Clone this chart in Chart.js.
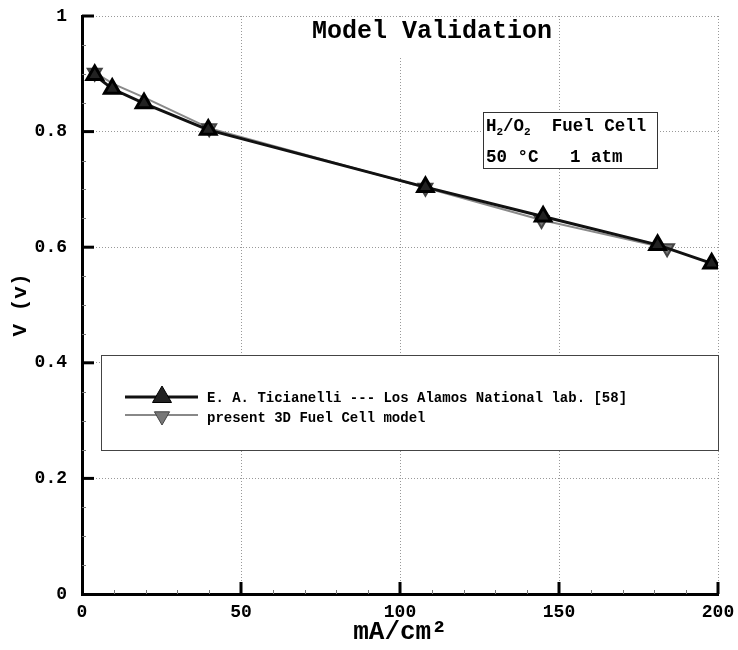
<!DOCTYPE html>
<html>
<head>
<meta charset="utf-8">
<script src="https://cdn.jsdelivr.net/npm/chart.js@4.4.0/dist/chart.umd.min.js"></script>
<style>
  html, body { margin: 0; padding: 0; background: #fff; }
  #wrap { width: 738px; height: 650px; position: relative; }
</style>
</head>
<body>
<div id="wrap"><canvas id="c" width="738" height="650"></canvas></div>
<script>
// ---- Data ----
const expX   = [4, 9.5, 19.5, 39.7, 108, 145, 181, 198];
const expY   = [0.898, 0.874, 0.849, 0.803, 0.704, 0.653, 0.604, 0.572];
const modelX = [4, 10, 20, 40, 108, 144.5, 184];
const modelY = [0.902, 0.882, 0.858, 0.806, 0.703, 0.647, 0.598];
const modelMarkerShown = [1, 0, 0, 1, 1, 1, 1];

const xTickValues = [0, 50, 100, 150, 200];
const xTickLabels = ['0', '50', '100', '150', '200'];
const yTickValues = [0, 0.2, 0.4, 0.6, 0.8, 1];
const yTickLabels = ['0', '0.2', '0.4', '0.6', '0.8', '1'];

const seriesNames = ['E. A. Ticianelli --- Los Alamos National lab. [58]', 'present 3D Fuel Cell model'];
const chartTitle = 'Model Validation';
const xTitle = 'mA/cm\u00B2';
const yTitle = 'V (v)';
const infoLine2 = '50 \u00B0C   1 atm';

const MONO = '"Liberation Mono", "DejaVu Sans Mono", monospace';

function pts(xs, ys) { return xs.map((x, i) => ({ x: x, y: ys[i] })); }

function triangle(ctx, x, y, r, down, fill, stroke) {
  ctx.save();
  ctx.beginPath();
  const s = down ? -1 : 1;
  ctx.moveTo(x, y - s * r);
  ctx.lineTo(x + r * 0.95, y + s * r * 0.65);
  ctx.lineTo(x - r * 0.95, y + s * r * 0.65);
  ctx.closePath();
  ctx.fillStyle = fill; ctx.fill();
  ctx.strokeStyle = stroke; ctx.lineWidth = 1; ctx.stroke();
  ctx.restore();
}

const decorPlugin = {
  id: 'decor',
  afterDraw(chart) {
    const ctx = chart.ctx;
    const xs = chart.scales.x, ys = chart.scales.y;
    const area = chart.chartArea;
    ctx.save();
    // minor ticks
    ctx.strokeStyle = '#777'; ctx.lineWidth = 1;
    for (let v = 10; v < 200; v += 10) {
      if (v % 50 === 0) continue;
      const px = Math.round(xs.getPixelForValue(v)) + 0.5;
      ctx.beginPath(); ctx.moveTo(px, area.bottom); ctx.lineTo(px, area.bottom - 4); ctx.stroke();
    }
    for (let k = 1; k < 20; k++) {
      if (k % 4 === 0) continue;
      const py = Math.round(ys.getPixelForValue(k * 0.05)) + 0.5;
      ctx.beginPath(); ctx.moveTo(area.left, py); ctx.lineTo(area.left + 4, py); ctx.stroke();
    }
    // major ticks
    ctx.strokeStyle = '#000'; ctx.lineWidth = 3;
    xTickValues.forEach(v => {
      if (v === 0) return;
      const px = xs.getPixelForValue(v);
      ctx.beginPath(); ctx.moveTo(px, area.bottom); ctx.lineTo(px, area.bottom - 12); ctx.stroke();
    });
    yTickValues.forEach(v => {
      if (v === 0) return;
      const py = ys.getPixelForValue(v);
      ctx.beginPath(); ctx.moveTo(area.left, py); ctx.lineTo(area.left + 12, py); ctx.stroke();
    });

    // Title box (white, covering grid)
    ctx.font = 'bold 25px ' + MONO;
    const tw = ctx.measureText(chartTitle).width;
    const tcx = 432, tcy = 32;
    ctx.fillStyle = '#fff';
    ctx.fillRect(tcx - tw / 2 - 5, area.top + 2, tw + 10, 38);
    ctx.fillStyle = '#000';
    ctx.textAlign = 'center'; ctx.textBaseline = 'middle';
    ctx.fillText(chartTitle, tcx, tcy);

    // Info box
    const bx = 483, by = 112, bw = 174, bh = 56;
    ctx.fillStyle = '#fff'; ctx.fillRect(bx, by, bw, bh);
    ctx.strokeStyle = '#333'; ctx.lineWidth = 1;
    ctx.strokeRect(bx + 0.5, by + 0.5, bw, bh);
    ctx.fillStyle = '#000'; ctx.textAlign = 'left'; ctx.textBaseline = 'alphabetic';
    let tx = bx + 3; const ty1 = by + 19;
    const big = 'bold 17.5px ' + MONO, small = 'bold 11px ' + MONO;
    const parts = [['H', big, 0], ['2', small, 4], ['/O', big, 0], ['2', small, 4], ['  Fuel Cell', big, 0]];
    parts.forEach(p => {
      ctx.font = p[1];
      ctx.fillText(p[0], tx, ty1 + p[2]);
      tx += ctx.measureText(p[0]).width;
    });
    ctx.font = big;
    ctx.fillText(infoLine2, bx + 3, by + 50);

    // Legend box
    const lx = 101, ly = 355, lw = area.right - 101, lh = 95;
    ctx.fillStyle = '#fff'; ctx.fillRect(lx, ly, lw, lh);
    ctx.strokeStyle = '#444'; ctx.lineWidth = 1;
    ctx.strokeRect(lx + 0.5, ly + 0.5, lw, lh);
    // series 1 sample
    ctx.strokeStyle = '#111'; ctx.lineWidth = 3;
    ctx.beginPath(); ctx.moveTo(125, 397); ctx.lineTo(198, 397); ctx.stroke();
    triangle(ctx, 162, 396, 10, false, '#222', '#000');
    // series 2 sample
    ctx.strokeStyle = '#888'; ctx.lineWidth = 2;
    ctx.beginPath(); ctx.moveTo(125, 415); ctx.lineTo(198, 415); ctx.stroke();
    triangle(ctx, 162, 417, 8, true, '#777', '#444');
    ctx.fillStyle = '#000';
    ctx.font = 'bold 14px ' + MONO;
    ctx.textBaseline = 'middle';
    ctx.fillText(seriesNames[0], 207, 398);
    ctx.fillText(seriesNames[1], 207, 418);
    ctx.restore();
  }
};

new Chart(document.getElementById('c'), {
  type: 'scatter',
  data: {
    datasets: [
      {
        label: seriesNames[1],
        data: pts(modelX, modelY),
        showLine: true,
        borderColor: '#8a8a8a',
        borderWidth: 2,
        backgroundColor: '#777',
        pointBorderColor: '#444',
        pointStyle: 'triangle',
        rotation: 180,
        pointRadius: modelMarkerShown.map(m => m ? 8 : 0),
        order: 2
      },
      {
        label: seriesNames[0],
        data: pts(expX, expY),
        showLine: true,
        borderColor: '#111',
        borderWidth: 3,
        backgroundColor: '#222',
        pointBorderColor: '#000',
        pointStyle: 'triangle',
        pointRadius: 9,
        order: 1
      }
    ]
  },
  options: {
    responsive: false,
    animation: false,
    events: [],
    layout: { padding: { top: 16, right: 20, left: 0, bottom: 0 } },
    plugins: { legend: { display: false }, tooltip: { enabled: false } },
    scales: {
      x: {
        type: 'linear', min: 0, max: 200,
        afterBuildTicks: s => { s.ticks = xTickValues.map(v => ({ value: v })); },
        afterFit: s => { s.height = 56; s.paddingLeft = 0; s.paddingRight = 0; },
        grid: { color: '#999', lineWidth: 1, drawTicks: false },
        border: { display: true, color: '#000', width: 3, dash: [1, 2] },
        ticks: {
          padding: 8, color: '#000', maxRotation: 0,
          font: { family: MONO, size: 18, weight: 'bold' },
          callback: (v, i) => xTickLabels[i]
        },
        title: {
          display: true, text: xTitle, color: '#000',
          font: { family: MONO, size: 26, weight: 'bold' },
          padding: { top: 0, bottom: 2 }
        }
      },
      y: {
        type: 'linear', min: 0, max: 1,
        afterBuildTicks: s => { s.ticks = yTickValues.map(v => ({ value: v })); },
        afterFit: s => { s.width = 82; s.paddingTop = 0; s.paddingBottom = 0; },
        grid: { color: '#999', lineWidth: 1, drawTicks: false },
        border: { display: true, color: '#000', width: 3, dash: [1, 2] },
        ticks: {
          padding: 15, color: '#000',
          font: { family: MONO, size: 18, weight: 'bold' },
          callback: (v, i) => yTickLabels[i]
        },
        title: {
          display: true, text: yTitle, color: '#000',
          font: { family: MONO, size: 21, weight: 'bold' },
          padding: { top: 8, bottom: 0 }
        }
      }
    }
  },
  plugins: [decorPlugin]
});
</script>
</body>
</html>
